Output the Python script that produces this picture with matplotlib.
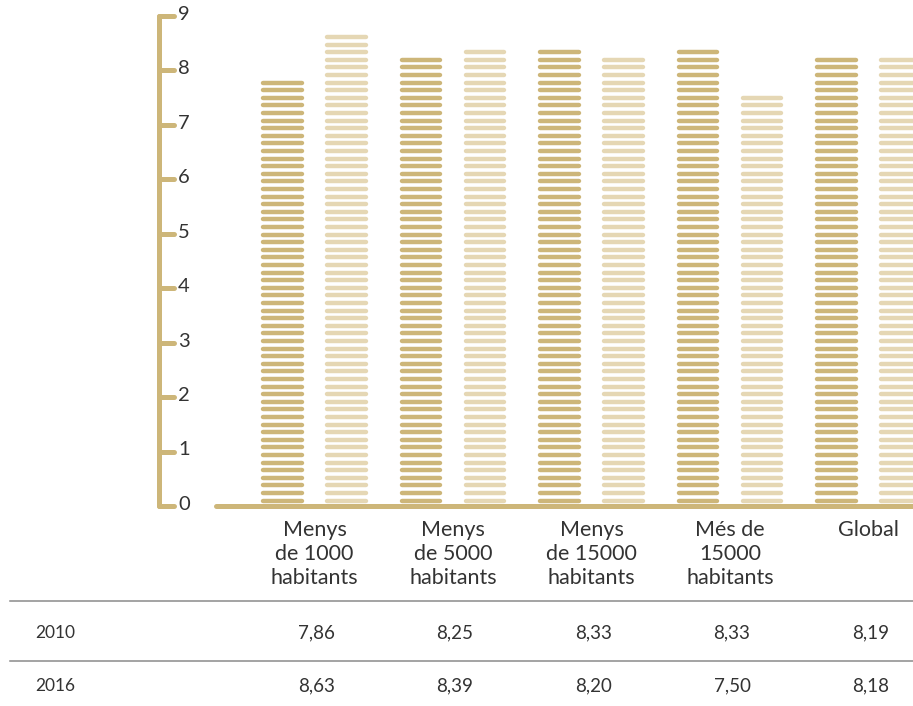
import numpy as np
import matplotlib.pyplot as plt

categories = ["Menys\nde 1000\nhabitants", "Menys\nde 5000\nhabitants",
              "Menys\nde 15000\nhabitants", "Més de\n15000\nhabitants", "Global"]
years = ["2010", "2016"]
values_2010 = [7.86, 8.25, 8.33, 8.33, 8.19]
values_2016 = [8.63, 8.39, 8.20, 7.50, 8.18]
y_ticks = list(range(0, 10))

dark = "#CDB679"
light = "#E5D7B4"
text_color = "#333333"

plt.rcParams['font.family'] = ['Lato', 'DejaVu Sans']

W, H = 913, 706
fig = plt.figure(figsize=(W / 100, H / 100), dpi=100)
ax = fig.add_axes([0, 0, 1, 1])

# pixel -> data mapping: group centres 138.5px apart, 1 unit = 54.44px
gx0, gpitch = 314.5, 138.5
y0, ypx = 506.0, 54.44
ax.set_xlim((0 - gx0) / gpitch, (W - gx0) / gpitch)
ax.set_ylim((y0 - H) / ypx, y0 / ypx)
ax.axis("off")

def px_x(p):
    return (p - gx0) / gpitch

def px_y(p):
    return (y0 - p) / ypx

# striped bars: stripes sit on a common grid starting just above zero
bar_w = 43 / gpitch
offset = 32 / gpitch
stripe_lw = 3.2
cap = 2.3 / gpitch
pitch = 7.6 / ypx
first = 5.5 / ypx
for i, (a, b) in enumerate(zip(values_2010, values_2016)):
    for val, dx, col in [(a, -offset, dark), (b, offset, light)]:
        xc = i + dx
        for yc in np.arange(first, val + 0.025, pitch):
            ax.plot([xc - bar_w / 2 + cap, xc + bar_w / 2 - cap], [yc, yc],
                    color=col, lw=stripe_lw, solid_capstyle="round")

# y axis with ticks
xa = px_x(159)
ax.plot([xa, xa], [0, 9], color=dark, lw=3.6, solid_capstyle="round")
for t in y_ticks:
    ax.plot([xa, px_x(174)], [t, t], color=dark, lw=3.6, solid_capstyle="round")
    ax.text(px_x(178), t + 0.03, str(t), ha="left", va="center", fontsize=14.5,
            color=text_color)

# baseline
ax.plot([px_x(216), px_x(W + 10)], [0, 0], color=dark, lw=3.6,
        solid_capstyle="round", clip_on=False)

# category labels
for i, c in enumerate(categories):
    for j, line in enumerate(c.split("\n")):
        ax.text(i, px_y(530 + 24 * j), line, ha="center", va="center",
                fontsize=15.5, color=text_color)

# table
for ly in [601, 661]:
    ax.plot([px_x(10), px_x(W)], [px_y(ly), px_y(ly)], color="#8a8a8a", lw=1.1)
for yr, vals, ty in [(years[0], values_2010, 633), (years[1], values_2016, 686)]:
    ax.text(px_x(35), px_y(ty), yr, ha="left", va="center", fontsize=12.5,
            color=text_color)
    for i, v in enumerate(vals):
        ax.text(i + 2 / gpitch, px_y(ty), f"{v:.2f}".replace(".", ","),
                ha="center", va="center", fontsize=13.5, color=text_color)

fig.savefig("out.png", dpi=100)
